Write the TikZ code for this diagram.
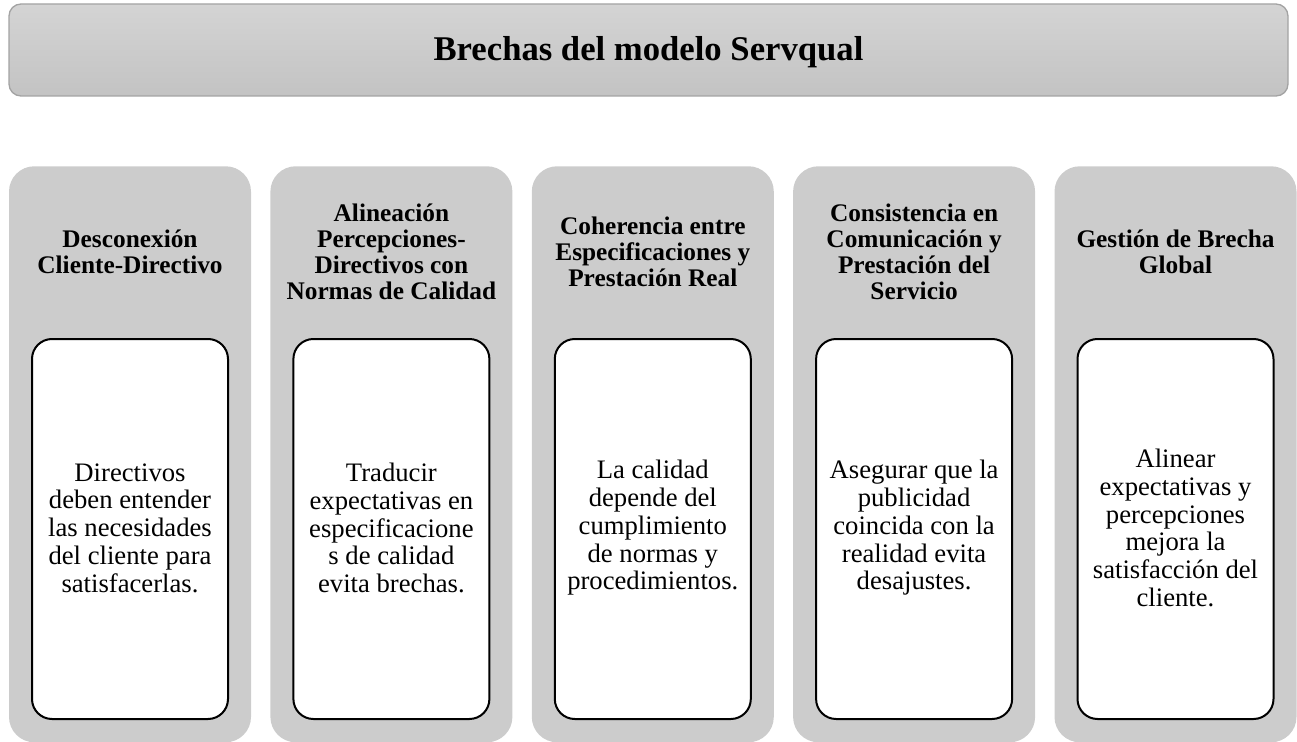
\documentclass[tikz,border=0pt]{standalone}
\usepackage{fontspec}
\setmainfont{Liberation Serif}
\definecolor{colgray}{HTML}{CCCCCC}
\definecolor{titletop}{HTML}{D4D4D4}
\definecolor{titlebot}{HTML}{C3C3C3}
\definecolor{titleedge}{HTML}{A3A3A3}
\tikzset{
  titlebar/.style={draw=titleedge, line width=1pt, rounded corners=9pt, top color=titletop, bottom color=titlebot},
  colbox/.style={fill=colgray, draw=none, rounded corners=19pt, minimum width=181.5pt, minimum height=432pt, anchor=north, inner sep=0pt},
  innerbox/.style={fill=white, draw=black, line width=1.5pt, rounded corners=15pt, minimum width=147pt, minimum height=285pt, anchor=north, inner sep=0pt},
  headtxt/.style={align=center, font=\fontsize{19}{19.5}\selectfont\bfseries, inner sep=0pt},
  bodytxt/.style={align=center, font=\fontsize{20}{20.8}\selectfont, inner sep=0pt},
  titletxt/.style={font=\fontsize{26}{30}\selectfont\bfseries, inner sep=0pt}
}
\begin{document}
\begin{tikzpicture}[x=0.75pt,y=-0.75pt]
\useasboundingbox (0,0) rectangle (1297,742);
\draw[titlebar] (9,4) rectangle (1288,96);
\node[titletxt] (title) at (648.5,52) {Brechas del modelo Servqual};
% columns
\foreach \i/\cx in {1/130,2/391.4,3/652.8,4/914.1,5/1175.5}{
  \node[colbox] (col\i) at (\cx,166) {};
  \node[innerbox] (box\i) at (\cx,338) {};
}
\node[headtxt] (h1) at (130,252) {Desconexión\\Cliente-Directivo};
\node[headtxt] (h2) at (391.4,252) {Alineación\\Percepciones-\\Directivos con\\Normas de Calidad};
\node[headtxt] (h3) at (652.8,252) {Coherencia entre\\Especificaciones y\\Prestación Real};
\node[headtxt] (h4) at (914.1,252) {Consistencia en\\Comunicación y\\Prestación del\\Servicio};
\node[headtxt] (h5) at (1175.5,252) {Gestión de Brecha\\Global};
\node[bodytxt] (b1) at (130,528) {Directivos\\deben entender\\las necesidades\\del cliente para\\satisfacerlas.};
\node[bodytxt] (b2) at (391.4,528) {Traducir\\expectativas en\\especificacione\\s de calidad\\evita brechas.};
\node[bodytxt] (b3) at (652.8,528) {La calidad\\depende del\\cumplimiento\\de normas y\\procedimientos.};
\node[bodytxt] (b4) at (914.1,528) {Asegurar que la\\publicidad\\coincida con la\\realidad evita\\desajustes.};
\node[bodytxt] (b5) at (1175.5,528) {Alinear\\expectativas y\\percepciones\\mejora la\\satisfacción del\\cliente.};
\end{tikzpicture}
\end{document}
